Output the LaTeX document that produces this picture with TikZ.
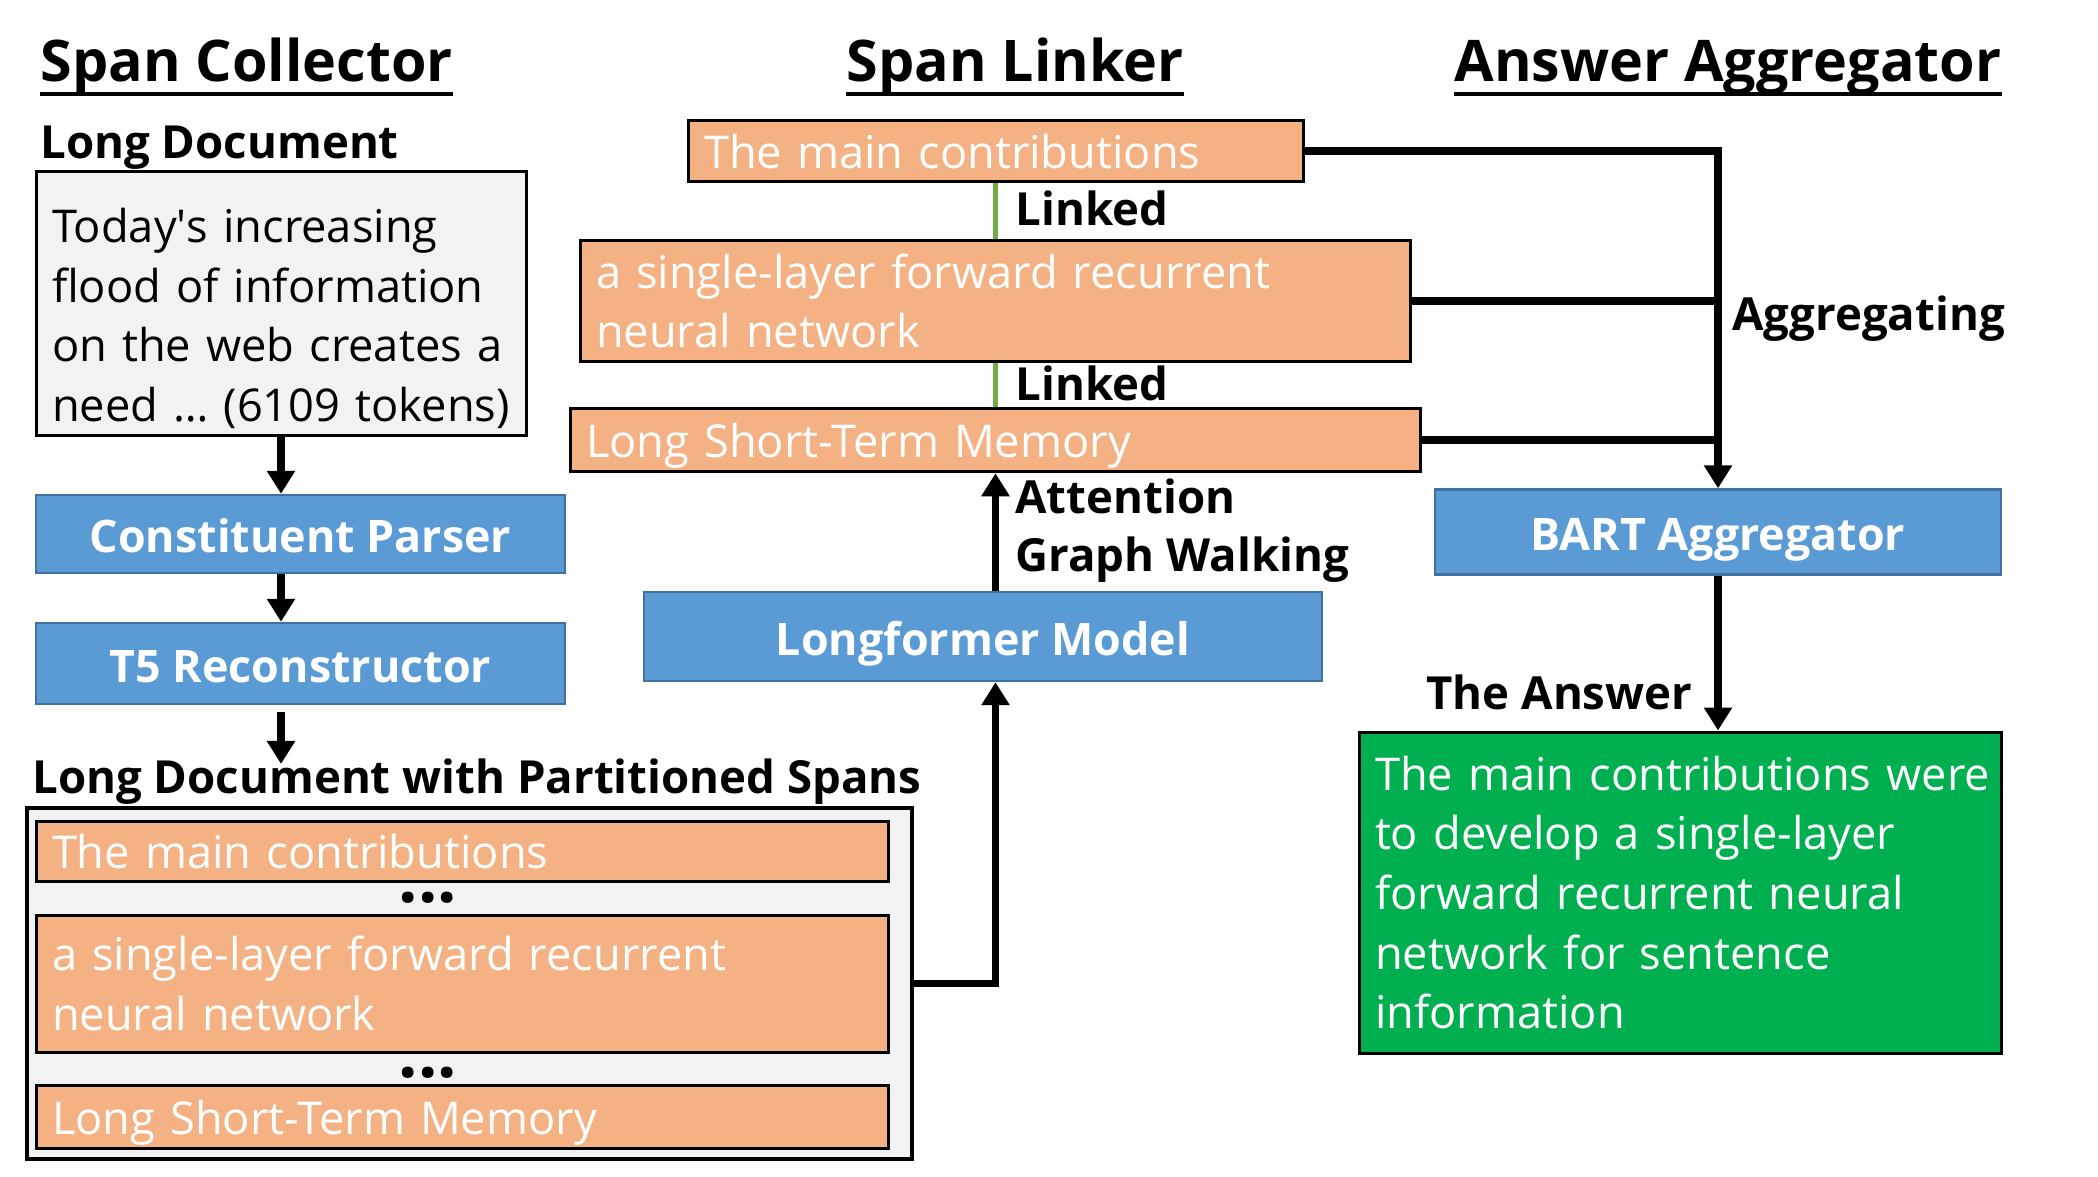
\documentclass[tikz,border=0pt]{standalone}
\usepackage{fontspec}
\setmainfont{Open Sans}
\usetikzlibrary{arrows.meta}
\definecolor{orangeC}{HTML}{F4B183}
\definecolor{blueC}{HTML}{5B9BD5}
\definecolor{blueB}{HTML}{41719C}
\definecolor{greenC}{HTML}{00B050}
\definecolor{grayC}{HTML}{F2F2F2}
\definecolor{linkC}{HTML}{70AD47}
\newcommand\myBody{\fontsize{22.6}{29.85}\selectfont}
\newcommand\myBold{\fontsize{22.8}{29}\selectfont\bfseries}
\newcommand\myBoxBold{\fontsize{22.4}{29}\selectfont\bfseries}
\newcommand\myTitle{\fontsize{28.7}{36}\selectfont\bfseries}
\newcommand\myDots{\fontsize{34}{40}\selectfont\bfseries}
\begin{document}
\begin{tikzpicture}[x=0.5pt,y=-0.5pt,
  box/.style={rectangle, inner xsep=8pt, inner ysep=0pt, align=left},
  docbox/.style={box, draw=black, line width=1.5pt, fill=grayC, text=black, font=\myBody},
  spanbox/.style={box, draw=black, line width=1.5pt, fill=orangeC, text=white, font=\myBody},
  oneline/.style={text height=17.6pt, text depth=0pt},
  bluebox/.style={rectangle, draw=blueB, line width=1.2pt, fill=blueC, text=white, font=\myBoxBold, inner sep=0pt, text height=18.5pt, text depth=0pt},
  ansbox/.style={box, draw=black, line width=1.5pt, fill=greenC, text=white, font=\myBody},
  outerbox/.style={rectangle, draw=black, line width=1.75pt, fill=grayC, inner sep=0pt},
  lbl/.style={inner sep=0pt, anchor=base west, font=\myBold},
  ttl/.style={inner sep=0pt, anchor=base west, font=\myTitle},
  dotlbl/.style={inner sep=0pt, font=\myDots},
  uline/.style={line width=2pt},
  conn/.style={line width=3.8pt},
  arr/.style={conn, -{Triangle[width=13.5pt,length=11.5pt]}},
  link/.style={line width=2.8pt, draw=linkC}]
\useasboundingbox (0,0) rectangle (2098,1177);

% titles
\node[ttl] (tsc) at (40,82) {Span Collector};
\node[ttl] (tsl) at (846,82) {Span Linker};
\node[ttl] (taa) at (1454,82) {Answer Aggregator};
\foreach \t in {tsc,tsl,taa}
  \draw[uline] ([yshift=-5.9pt]\t.base west) -- ([yshift=-5.9pt]\t.base east);

% span collector
\node[lbl] (ldl) at (40,158) {Long Document};
\node[docbox, text width=229pt, minimum height=132pt] (doc) at (281,303)
  {\rule{0pt}{32.5pt}\mbox{Today\textquotesingle s increasing}\\\mbox{flood of information}\\\mbox{on the web creates a}\\\mbox{need … (6109 tokens)}};
\node[bluebox, minimum width=264.5pt, minimum height=39pt] (cp) at (300.5,534) {Constituent Parser};
\node[bluebox, minimum width=264.5pt, minimum height=40.5pt] (t5) at (300.5,663.5) {T5 Reconstructor};
\node[lbl] (pst) at (32,793) {Long Document with Partitioned Spans};
\node[outerbox, minimum width=442.5pt, minimum height=175.5pt] (outer) at (469.5,983.5) {};
\node[spanbox, oneline, text width=410pt, minimum height=30pt] (s1) at (462,851) {The main contributions};
\node[dotlbl] (d1) at (428,898) {...};
\node[spanbox, text width=410pt, minimum height=68.5pt] (s2) at (462,983.5) {\mbox{a single-layer forward recurrent}\\\mbox{neural network}};
\node[dotlbl] (d2) at (428,1073) {...};
\node[spanbox, oneline, text width=410pt, minimum height=31.5pt] (s3) at (462,1116.5) {Long Short-Term Memory};

\draw[arr] (doc.south) -- (doc.south |- cp.north);
\draw[arr] (doc.south |- cp.south) -- (doc.south |- t5.north);
\draw[arr] ([yshift=-3.5pt]doc.south |- t5.south) -- ([yshift=-3pt]doc.south |- pst.north);

% span linker
\node[spanbox, oneline, text width=291.5pt, minimum height=30.25pt] (l1) at (995.5,151) {The main contributions};
\node[spanbox, text width=399pt, minimum height=60.8pt] (l2) at (995,301) {\mbox{a single-layer forward recurrent}\\\mbox{neural network}};
\node[spanbox, oneline, text width=409pt, minimum height=31.75pt] (l3) at (995,440) {Long Short-Term Memory};
\node[bluebox, minimum width=339pt, minimum height=44.5pt] (lf) at (983,636.5) {Longformer Model};
\draw[link] (l1.south) -- (l1.south |- l2.north);
\draw[link] (l1.south |- l2.south) -- (l1.south |- l3.north);
\node[lbl] (lk1) at (1015,225) {Linked};
\node[lbl] (lk2) at (1015,400) {Linked};
\node[lbl] (att) at (1015,513) {Attention};
\node[lbl] (gw) at (1015,571) {Graph Walking};
\draw[arr] (outer.east) -| (l1.south |- lf.south);
\draw[arr] (l1.south |- lf.north) -- (l1.south |- l3.south);

% answer aggregator
\node[bluebox, minimum width=283pt, minimum height=42.5pt] (bart) at (1718,532) {BART Aggregator};
\node[ansbox, text width=305pt, minimum height=160.5pt] (ans) at (1680,892.5)
  {\mbox{The main contributions were}\\\mbox{to develop a single-layer}\\\mbox{forward recurrent neural}\\\mbox{network for sentence}\\\mbox{information}};
\draw[arr] (l1.east) -| (bart.north);
\draw[conn] (l2.east) -- (l2.east -| bart.north);
\draw[conn] (l3.east) -- (l3.east -| bart.north);
\node[lbl] (agg) at (1732,330) {Aggregating};
\draw[arr] (bart.south) -- (bart.south |- ans.north);
\node[lbl] (tans) at (1426,709.5) {The Answer};
\end{tikzpicture}
\end{document}
